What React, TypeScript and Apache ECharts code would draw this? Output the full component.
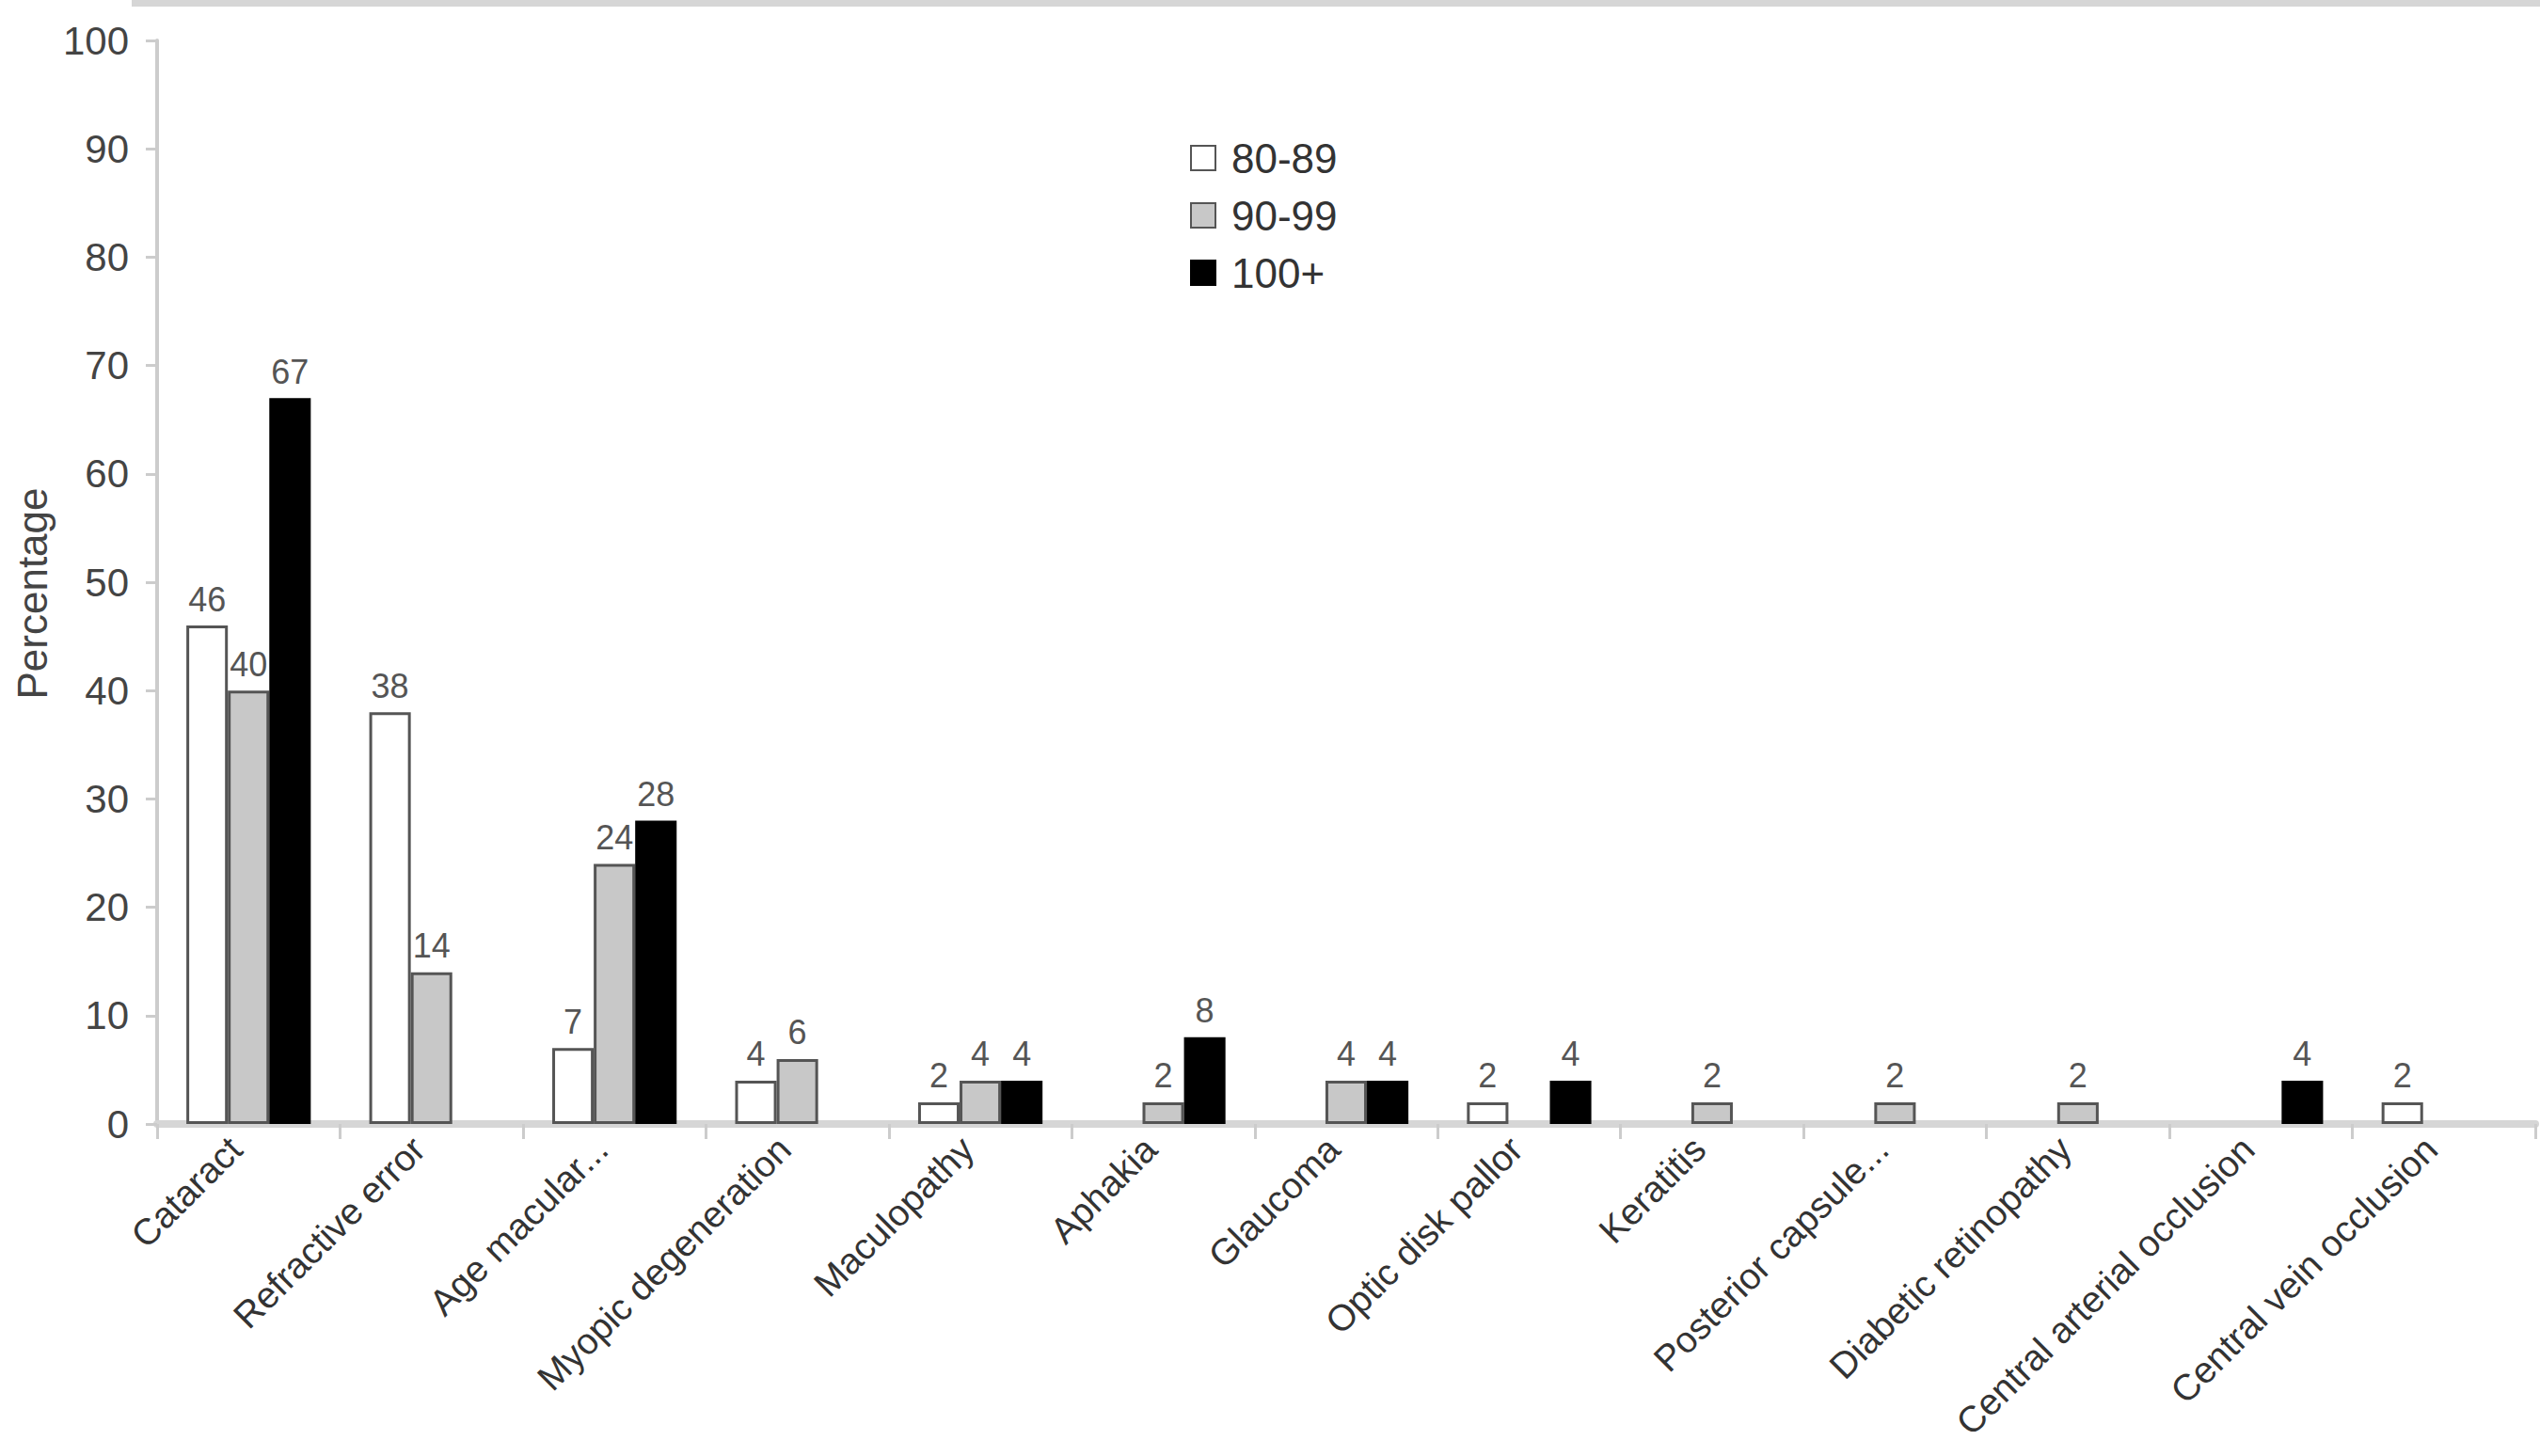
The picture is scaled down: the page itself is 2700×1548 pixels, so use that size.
import React, { useEffect, useRef } from "react";
import * as echarts from "echarts";

const categories = [
  "Cataract",
  "Refractive error",
  "Age macular...",
  "Myopic degeneration",
  "Maculopathy",
  "Aphakia",
  "Glaucoma",
  "Optic disk pallor",
  "Keratitis",
  "Posterior capsule...",
  "Diabetic retinopathy",
  "Central arterial occlusion",
  "Central vein occlusion",
];

const seriesNames = ["80-89", "90-99", "100+"];
const age80: (number | null)[] = [46, 38, 7, 4, 2, null, null, 2, null, null, null, null, 2];
const age90: (number | null)[] = [40, 14, 24, 6, 4, 2, 4, null, 2, 2, 2, null, null];
const age100: (number | null)[] = [67, null, 28, null, 4, 8, 4, 4, null, null, null, 4, null];

const yTicks = { min: 0, max: 100, interval: 10 };

const FONT = "'Liberation Sans', Arial, sans-serif";

export default function App() {
  const ref = useRef<HTMLDivElement>(null);
  useEffect(() => {
    if (!ref.current) return;
    const chart = echarts.init(ref.current, null, { renderer: "svg" });
    const label = {
      show: true,
      position: "top",
      distance: 10,
      color: "#555",
      fontSize: 36,
      fontFamily: FONT,
    };
    const styles = [
      { color: "#ffffff", borderColor: "#555555", borderWidth: 3 },
      { color: "#c8c8c8", borderColor: "#555555", borderWidth: 3 },
      { color: "#000000", borderColor: "#000000", borderWidth: 3 },
    ];
    const datas = [age80, age90, age100];
    chart.setOption({
      animation: false,
      backgroundColor: "#ffffff",
      textStyle: { fontFamily: FONT },
      graphic: [
        {
          type: "rect",
          left: 140,
          top: 0,
          shape: { width: 2560, height: 7 },
          style: { fill: "#d6d6d6" },
          silent: true,
        },
      ],
      legend: {
        orient: "vertical",
        left: 1260,
        top: 141,
        icon: "rect",
        itemWidth: 26,
        itemHeight: 26,
        itemGap: 17,
        data: seriesNames,
        textStyle: { fontSize: 44, color: "#333", fontFamily: FONT, padding: [0, 0, 0, 12] },
      },
      grid: { left: 167, right: 5, top: 43, bottom: 353, containLabel: false, outerBoundsMode: "none" },
      xAxis: {
        type: "category",
        data: categories,
        axisLine: { lineStyle: { color: "#d6d6d6", width: 8 } },
        axisTick: { show: true, length: 16, alignWithLabel: false, lineStyle: { color: "#cccccc", width: 3 } },
        axisLabel: {
          interval: 0,
          rotate: 45,
          margin: 34,
          verticalAlign: "bottom",
          fontSize: 39,
          color: "#333",
          fontFamily: FONT,
        },
      },
      yAxis: {
        type: "value",
        min: yTicks.min,
        max: yTicks.max,
        interval: yTicks.interval,
        name: "Percentage",
        nameLocation: "middle",
        nameRotate: 90,
        nameGap: 105,
        nameTextStyle: { fontSize: 44, color: "#444", fontFamily: FONT, padding: [0, 24, 0, 0] },
        splitLine: { show: false },
        axisLine: { show: true, lineStyle: { color: "#cccccc", width: 4 } },
        axisTick: { show: true, length: 12, lineStyle: { color: "#cccccc", width: 3 } },
        axisLabel: { fontSize: 42, color: "#444", margin: 30, fontFamily: FONT },
      },
      series: seriesNames.map((name, i) => ({
        name,
        type: "bar",
        data: datas[i],
        barGap: "0%",
        barCategoryGap: "32%",
        itemStyle: styles[i],
        label,
      })),
    });
    return () => chart.dispose();
  }, []);
  return (
    <div
      ref={ref}
      style={{ position: "fixed", left: 0, top: 0, width: 2700, height: 1548 }}
    />
  );
}
